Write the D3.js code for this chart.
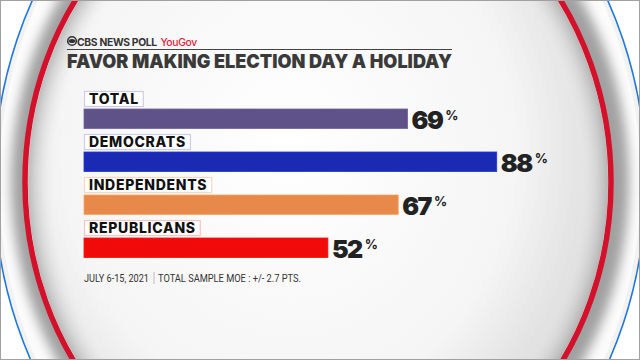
<!DOCTYPE html>
<html><head><meta charset="utf-8">
<script src="https://cdn.jsdelivr.net/npm/d3@7"></script>
<style>html,body{margin:0;padding:0;background:#fff;}svg{display:block;}</style>
</head><body>
<svg id="c" width="640" height="360"></svg>
<script>
const categories = ["TOTAL", "DEMOCRATS", "INDEPENDENTS", "REPUBLICANS"];
const values = [69, 88, 67, 52];
const barColors = ["#5e5289", "#1b2ab3", "#e7894b", "#f00a0a"];
const boxColors = ["#cfcbe6", "#c9cdf0", "#f6d8c6", "#f7c4c4"];
const brand = "CBS NEWS POLL";
const partner = "YouGov";
const title = "FAVOR MAKING ELECTION DAY A HOLIDAY";
const footDate = "JULY 6-15, 2021";
const footMoe = "TOTAL SAMPLE MOE : +/- 2.7 PTS.";

const heavy = "Inter, 'Open Sans', sans-serif";
const svg = d3.select("#c");
const defs = svg.append("defs");
const rg = defs.append("radialGradient").attr("id","inner").attr("cx","45%").attr("cy","45%").attr("r","60%");
rg.append("stop").attr("offset","0%").attr("stop-color","#ffffff");
rg.append("stop").attr("offset","65%").attr("stop-color","#f5f5f5");
rg.append("stop").attr("offset","100%").attr("stop-color","#d4d4d4");
const blur = defs.append("filter").attr("id","blur").attr("x","-10%").attr("y","-10%").attr("width","120%").attr("height","120%");
blur.append("feGaussianBlur").attr("stdDeviation", 6);

svg.append("rect").attr("width",640).attr("height",360).attr("fill","#ffffff");
// outer blue ring
svg.append("ellipse").attr("cx",320).attr("cy",182).attr("rx",326).attr("ry",386)
  .attr("fill","#f2f2f2").attr("stroke","#1f78e0").attr("stroke-width",1.6);
svg.append("ellipse").attr("cx",320).attr("cy",182).attr("rx",321).attr("ry",380)
  .attr("fill","#fcfcfc");
// shadow band
svg.append("ellipse").attr("cx",320).attr("cy",182).attr("rx",309).attr("ry",341)
  .attr("fill","#a0a0a0").attr("filter","url(#blur)");
// inner disc
svg.append("ellipse").attr("cx",318).attr("cy",182).attr("rx",293).attr("ry",324)
  .attr("fill","url(#inner)").attr("stroke","#d3112a").attr("stroke-width",5.5);
// inner shading near ring
const ig = defs.append("radialGradient").attr("id","innerShade").attr("cx","50%").attr("cy","50%").attr("r","50%");
ig.append("stop").attr("offset","90%").attr("stop-color","#ffffff").attr("stop-opacity",0);
ig.append("stop").attr("offset","100%").attr("stop-color","#9a9a9a").attr("stop-opacity",0.6);
svg.append("ellipse").attr("cx",318).attr("cy",182).attr("rx",290).attr("ry",321).attr("fill","url(#innerShade)");
// frame
svg.append("rect").attr("x",0.5).attr("y",0.5).attr("width",639).attr("height",359)
  .attr("fill","none").attr("stroke","#a0a0a0").attr("stroke-width",1);

// header
const hdr = svg.append("g");
hdr.append("circle").attr("cx",72).attr("cy",41).attr("r",4.3).attr("fill","none").attr("stroke","#333").attr("stroke-width",1.6);
hdr.append("ellipse").attr("cx",72).attr("cy",41).attr("rx",3.2).attr("ry",2).attr("fill","#333");
const bt = hdr.append("text").attr("x",77).attr("y",45.5).attr("font-family",heavy).attr("font-weight",700)
  .attr("font-size",10.3).attr("letter-spacing",-0.3).attr("fill","#333").text(brand);
const bw = bt.node().getComputedTextLength();
hdr.append("text").attr("x",77 + bw + 3.5).attr("y",45.5).attr("font-family",heavy).attr("font-weight",500)
  .attr("font-size",10.3).attr("letter-spacing",-0.3).attr("fill","#e8203a").text(partner);
hdr.append("line").attr("x1",67).attr("x2",452).attr("y1",49.5).attr("y2",49.5).attr("stroke","#444").attr("stroke-width",1);
hdr.append("text").attr("x",67).attr("y",68).attr("font-family",heavy).attr("font-weight",900)
  .attr("font-size",19).attr("fill","#3a3a3a").attr("textLength",385).attr("lengthAdjust","spacingAndGlyphs").text(title);

// chart
const x = d3.scaleLinear().domain([0,100]).range([84, 553]);
const y = d3.scaleBand().domain(categories).range([91, 263]).paddingInner(0);
const data = categories.map((c,i)=>({c, v:values[i], color:barColors[i], box:boxColors[i]}));

const g = svg.append("g").selectAll("g").data(data).join("g")
  .attr("transform", d=>`translate(0,${y(d.c)})`);

const labels = g.append("text").attr("x", x(0)+5).attr("y", 13)
  .attr("font-family",heavy).attr("font-weight",800)
  .attr("font-size",14).attr("letter-spacing",0.7).attr("fill","#111").text(d=>d.c);
labels.each(function(d){ d.lw = this.getComputedTextLength(); });
g.insert("rect","text").attr("x", x(0)+0.5).attr("y",0.5).attr("height",15)
  .attr("width", d=>d.lw+9).attr("fill","#ffffff").attr("stroke", d=>d.box).attr("stroke-width",1.2);

g.append("rect").attr("x", x(0)).attr("y",18).attr("height",19.5)
  .attr("width", d=>x(d.v)-x(0)).attr("fill", d=>d.color)
  .attr("stroke", d=>d3.color(d.color).brighter(0.5)).attr("stroke-width",0.8);

const vt = g.append("text").attr("x", d=>x(d.v)+4).attr("y", 37.5)
  .attr("font-family",heavy).attr("font-weight",900).attr("fill","#222");
vt.append("tspan").attr("font-size",25).attr("letter-spacing",-1.5).text(d=>d.v);
vt.append("tspan").attr("font-size",13).attr("font-weight",700).attr("dx",3).attr("dy",-9).text("%");

// footer
const ft = svg.append("g").attr("font-family","'Liberation Sans Narrow', Roboto, sans-serif").attr("font-size",10).attr("fill","#333");
ft.append("text").attr("x",84).attr("y",282).attr("textLength",65).attr("lengthAdjust","spacingAndGlyphs").text(footDate);
ft.append("line").attr("x1",154).attr("x2",154).attr("y1",272).attr("y2",284).attr("stroke","#bbb").attr("stroke-width",1);
ft.append("text").attr("x",158).attr("y",282).attr("textLength",143).attr("lengthAdjust","spacingAndGlyphs").text(footMoe);
</script>
</body></html>
